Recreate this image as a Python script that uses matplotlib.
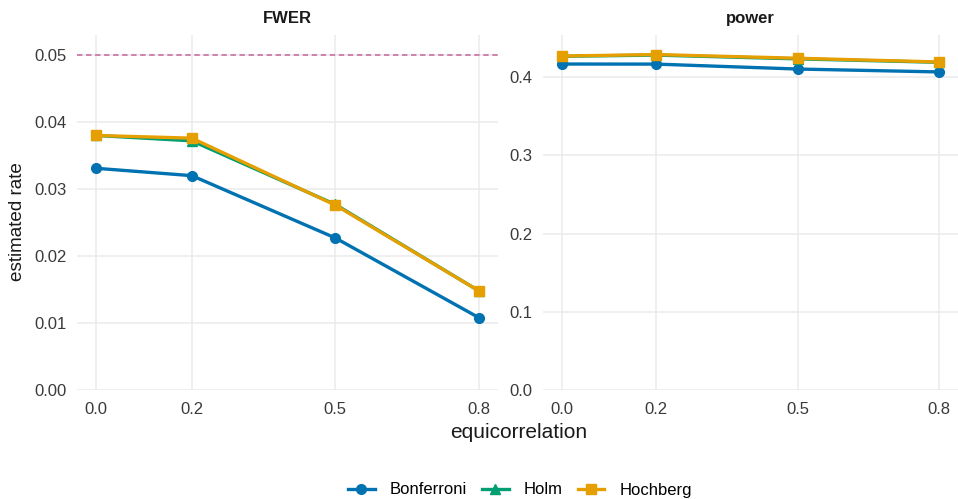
import numpy as np
import matplotlib
matplotlib.use("Agg")
import matplotlib.pyplot as plt

plt.rcParams['font.family'] = ['Liberation Sans', 'DejaVu Sans']

# data
rho = [0.0, 0.2, 0.5, 0.8]
methods = ["Bonferroni", "Holm", "Hochberg"]
fwer = {
    "Bonferroni": [0.0331, 0.0320, 0.0227, 0.0108],
    "Holm": [0.0380, 0.0372, 0.0277, 0.0148],
    "Hochberg": [0.0380, 0.0376, 0.0276, 0.0148],
}
power = {
    "Bonferroni": [0.4166, 0.4165, 0.4102, 0.4065],
    "Holm": [0.4265, 0.4280, 0.4232, 0.4188],
    "Hochberg": [0.4268, 0.4287, 0.4240, 0.4192],
}
alpha = 0.05

colors = {"Bonferroni": "#0072B2", "Holm": "#009E73", "Hochberg": "#E69F00"}
markers = {"Bonferroni": "o", "Holm": "^", "Hochberg": "s"}
msize = {"Bonferroni": 7, "Holm": 7, "Hochberg": 7}
grid_col = "#EBEBEB"

fig = plt.figure(figsize=(9.58, 4.99), dpi=100)
W, H = 958, 499
top, bottom = 35, 390
ax1 = fig.add_axes([77 / W, 1 - bottom / H, (498 - 77) / W, (bottom - top) / H])
ax2 = fig.add_axes([543 / W, 1 - bottom / H, (958 - 543) / W, (bottom - top) / H])


def style(ax, yticks, fmt):
    ax.set_xlim(-0.04, 0.84)
    ax.set_xticks(rho)
    ax.set_xticklabels([f"{r:.1f}" for r in rho])
    ax.set_yticks(yticks)
    ax.set_yticklabels([fmt.format(v) for v in yticks])
    for s in ax.spines.values():
        s.set_visible(False)
    ax.grid(True, color=grid_col, linewidth=1.1)
    ax.set_axisbelow(True)
    ax.tick_params(length=0, labelsize=12, labelcolor="#3A3A3A")
    ax.tick_params(axis="x", pad=9)
    ax.tick_params(axis="y", pad=7.5)


for m in methods:
    ax1.plot(rho, fwer[m], color=colors[m], marker=markers[m], ms=msize[m],
             lw=2.4, label=m, zorder=3, clip_on=False)
    ax2.plot(rho, power[m], color=colors[m], marker=markers[m], ms=msize[m],
             lw=2.4, label=m, zorder=3, clip_on=False)

ax1.axhline(alpha, color="#CC79A7", ls=(0, (3, 2)), lw=1.3, zorder=2)
ax1.set_ylim(0, 0.053)
ax2.set_ylim(0, 0.4537)
style(ax1, [0.0, 0.01, 0.02, 0.03, 0.04, 0.05], "{:.2f}")
style(ax2, [0.0, 0.1, 0.2, 0.3, 0.4], "{:.1f}")

ax1.set_title("FWER", fontsize=12, fontweight="bold", color="#1A1A1A", pad=8.5)
ax2.set_title("power", fontsize=12, fontweight="bold", color="#1A1A1A", pad=8.5)

fig.text(18 / W, 1 - 222 / H, "estimated rate", rotation=90, fontsize=13.6,
         ha="center", va="center", color="#1A1A1A")
fig.text(519 / W, 1 - 433 / H, "equicorrelation", fontsize=15,
         ha="center", va="center", color="#1A1A1A")

handles, labels = ax1.get_legend_handles_labels()
fig.legend(handles, labels, loc="center", bbox_to_anchor=(520 / W, 1 - 490 / H),
           ncol=3, frameon=False, fontsize=12, handlelength=1.6,
           columnspacing=0.9, handletextpad=0.9)

fig.savefig("out.png", dpi=100)
